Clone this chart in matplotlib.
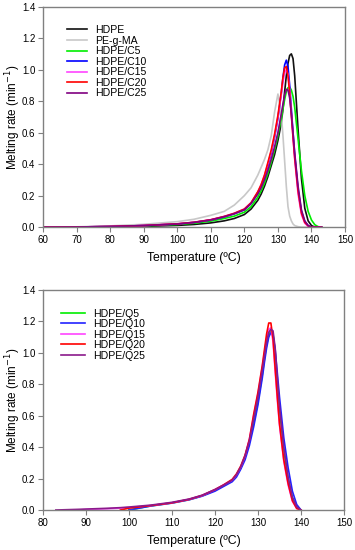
import numpy as np
import matplotlib
matplotlib.use("Agg")
import matplotlib.pyplot as plt

plt.rcParams['font.family'] = ['Liberation Sans', 'DejaVu Sans']

# ---------------- Top panel data ----------------
temp_top = [60, 70, 80, 90, 100, 105, 110, 114, 117, 120, 122, 124, 125, 126, 127, 128, 129, 130,
            131, 131.5, 132, 132.5, 133, 133.5, 134, 134.5, 135, 136, 137, 138, 139, 140, 141, 142, 143]
hdpe = [0, 0, 0.002, 0.005, 0.011, 0.017, 0.027, 0.04, 0.055, 0.08, 0.115, 0.17, 0.21, 0.26, 0.32, 0.39, 0.46, 0.55,
        0.66, 0.75, 0.86, 0.96, 1.04, 1.09, 1.10, 1.07, 0.96, 0.62, 0.31, 0.12, 0.04, 0.01, 0, 0, 0]
pe_g_ma = [0, 0.002, 0.008, 0.018, 0.035, 0.05, 0.075, 0.1, 0.14, 0.2, 0.25, 0.33, 0.38, 0.43, 0.49, 0.58, 0.73, 0.845,
           0.72, 0.58, 0.42, 0.26, 0.13, 0.07, 0.04, 0.02, 0.01, 0.003, 0, 0, 0, 0, 0, 0, 0]
c5 = [0, 0.001, 0.003, 0.008, 0.017, 0.025, 0.038, 0.055, 0.07, 0.095, 0.13, 0.19, 0.23, 0.28, 0.34, 0.41, 0.49, 0.58,
      0.69, 0.75, 0.81, 0.86, 0.885, 0.89, 0.87, 0.83, 0.76, 0.56, 0.36, 0.2, 0.1, 0.045, 0.015, 0.003, 0]
c10 = [0, 0.001, 0.004, 0.01, 0.02, 0.03, 0.045, 0.065, 0.085, 0.11, 0.15, 0.22, 0.26, 0.32, 0.39, 0.47, 0.57, 0.69,
       0.85, 0.95, 1.03, 1.06, 1.02, 0.9, 0.75, 0.6, 0.46, 0.24, 0.1, 0.035, 0.01, 0, 0, 0, 0]
c15 = [0, 0.001, 0.004, 0.01, 0.021, 0.031, 0.047, 0.068, 0.088, 0.115, 0.155, 0.22, 0.27, 0.33, 0.40, 0.48, 0.58, 0.70,
       0.84, 0.92, 0.98, 1.0, 0.97, 0.87, 0.72, 0.57, 0.43, 0.21, 0.08, 0.025, 0.005, 0, 0, 0, 0]
c20 = [0, 0.001, 0.004, 0.01, 0.021, 0.031, 0.047, 0.068, 0.088, 0.115, 0.155, 0.225, 0.27, 0.33, 0.41, 0.49, 0.59, 0.71,
       0.86, 0.95, 1.01, 1.02, 0.96, 0.85, 0.71, 0.57, 0.44, 0.23, 0.09, 0.03, 0.008, 0, 0, 0, 0]
c25 = [0, 0.001, 0.004, 0.01, 0.02, 0.03, 0.046, 0.066, 0.085, 0.11, 0.15, 0.21, 0.25, 0.30, 0.36, 0.43, 0.51, 0.60,
       0.72, 0.78, 0.84, 0.875, 0.87, 0.82, 0.72, 0.60, 0.47, 0.26, 0.11, 0.04, 0.01, 0, 0, 0, 0]
labels_top = ['HDPE', 'PE-g-MA', 'HDPE/C5', 'HDPE/C10', 'HDPE/C15', 'HDPE/C20', 'HDPE/C25']
series_top = [hdpe, pe_g_ma, c5, c10, c15, c20, c25]
colors_top = ['#111111', '#c8c8c8', '#00ee00', '#0000ff', '#ff44ff', '#ff0000', '#800080']

# ---------------- Bottom panel data ----------------
temp_bot = [83, 88, 90, 95, 98, 100, 105, 110, 114, 117, 120, 122, 124, 125, 126, 127, 128, 129, 130,
            131, 131.5, 132, 132.5, 133, 133.5, 134, 134.5, 135, 136, 137, 138, 139, 140]
nan = float('nan')
q5 = [nan, nan, nan, nan, nan, 0, 0.026, 0.045, 0.066, 0.09, 0.125, 0.155, 0.185, 0.22, 0.27, 0.34, 0.43, 0.55, 0.69,
      0.86, 0.96, 1.05, 1.11, 1.14, 1.12, 1.0, 0.8, 0.64, 0.38, 0.2, 0.08, 0.02, 0]
q10 = [nan, nan, nan, nan, nan, 0, 0.025, 0.044, 0.065, 0.088, 0.12, 0.15, 0.18, 0.21, 0.26, 0.32, 0.41, 0.53, 0.67,
       0.84, 0.94, 1.03, 1.1, 1.13, 1.11, 1.02, 0.87, 0.72, 0.46, 0.27, 0.12, 0.035, 0]
q15 = [nan, 0, 0.003, 0.008, 0.012, 0.016, 0.028, 0.046, 0.068, 0.092, 0.13, 0.16, 0.19, 0.225, 0.275, 0.345, 0.45, 0.6,
       0.74, 0.91, 1.0, 1.09, 1.15, 1.16, 1.07, 0.88, 0.7, 0.54, 0.31, 0.16, 0.055, 0.01, 0]
q20 = [nan, nan, nan, nan, 0, 0.012, 0.028, 0.046, 0.068, 0.093, 0.13, 0.16, 0.195, 0.23, 0.28, 0.35, 0.45, 0.61,
       0.75, 0.92, 1.02, 1.12, 1.19, 1.19, 1.09, 0.9, 0.72, 0.55, 0.32, 0.17, 0.06, 0.01, 0]
q25 = [0, 0.004, 0.006, 0.011, 0.015, 0.019, 0.031, 0.049, 0.07, 0.094, 0.13, 0.158, 0.19, 0.225, 0.275, 0.345, 0.44, 0.58,
       0.72, 0.89, 0.98, 1.07, 1.13, 1.15, 1.14, 1.03, 0.84, 0.66, 0.4, 0.21, 0.08, 0.02, 0]
labels_bot = ['HDPE/Q5', 'HDPE/Q10', 'HDPE/Q15', 'HDPE/Q20', 'HDPE/Q25']
series_bot = [q5, q10, q15, q20, q25]
colors_bot = ['#00ee00', '#2222ff', '#ff44ff', '#ff0000', '#8b1a8b']

fig = plt.figure(figsize=(3.55, 5.5), dpi=100)
ax1 = fig.add_axes([0.121, 0.587, 0.851, 0.401])
ax2 = fig.add_axes([0.121, 0.0727, 0.848, 0.400])

spine_c = '#808080'


def style(ax, xlim, xticks):
    ax.set_xlim(*xlim)
    ax.set_ylim(0, 1.4)
    ax.set_xticks(xticks)
    ax.set_yticks(np.arange(0, 1.41, 0.2))
    ax.yaxis.set_major_formatter(matplotlib.ticker.FormatStrFormatter('%.1f'))
    for s in ax.spines.values():
        s.set_color(spine_c)
        s.set_linewidth(1.0)
    ax.tick_params(direction='out', length=3.5, width=0.8, color=spine_c, labelsize=7, pad=2)
    xl = ax.set_xlabel('Temperature (ºC)', fontsize=8.8)
    xl.set_va('center')
    ax.xaxis.set_label_coords(0.5, -0.14)
    yl = ax.set_ylabel('Melting rate (min$^{-1}$)', fontsize=8.5)
    yl.set_va('center')
    ax.yaxis.set_label_coords(-0.10, 0.5)


for y, lab, c in zip(series_top, labels_top, colors_top):
    ax1.plot(temp_top, y, color=c, lw=1.2, label=lab)
style(ax1, (60, 150), range(60, 151, 10))
ax1.legend(loc='upper left', bbox_to_anchor=(0.065, 0.935), frameon=False, fontsize=7.6,
           handlelength=1.9, handletextpad=0.75, labelspacing=0.05, borderaxespad=0)

for y, lab, c in zip(series_bot, labels_bot, colors_bot):
    ax2.plot(temp_bot, y, color=c, lw=1.2, label=lab)
style(ax2, (80, 150), range(80, 151, 10))
ax2.legend(loc='upper left', bbox_to_anchor=(0.045, 0.935), frameon=False, fontsize=7.6,
           handlelength=2.3, handletextpad=0.75, labelspacing=0.05, borderaxespad=0)

fig.savefig('out.png', dpi=100)
